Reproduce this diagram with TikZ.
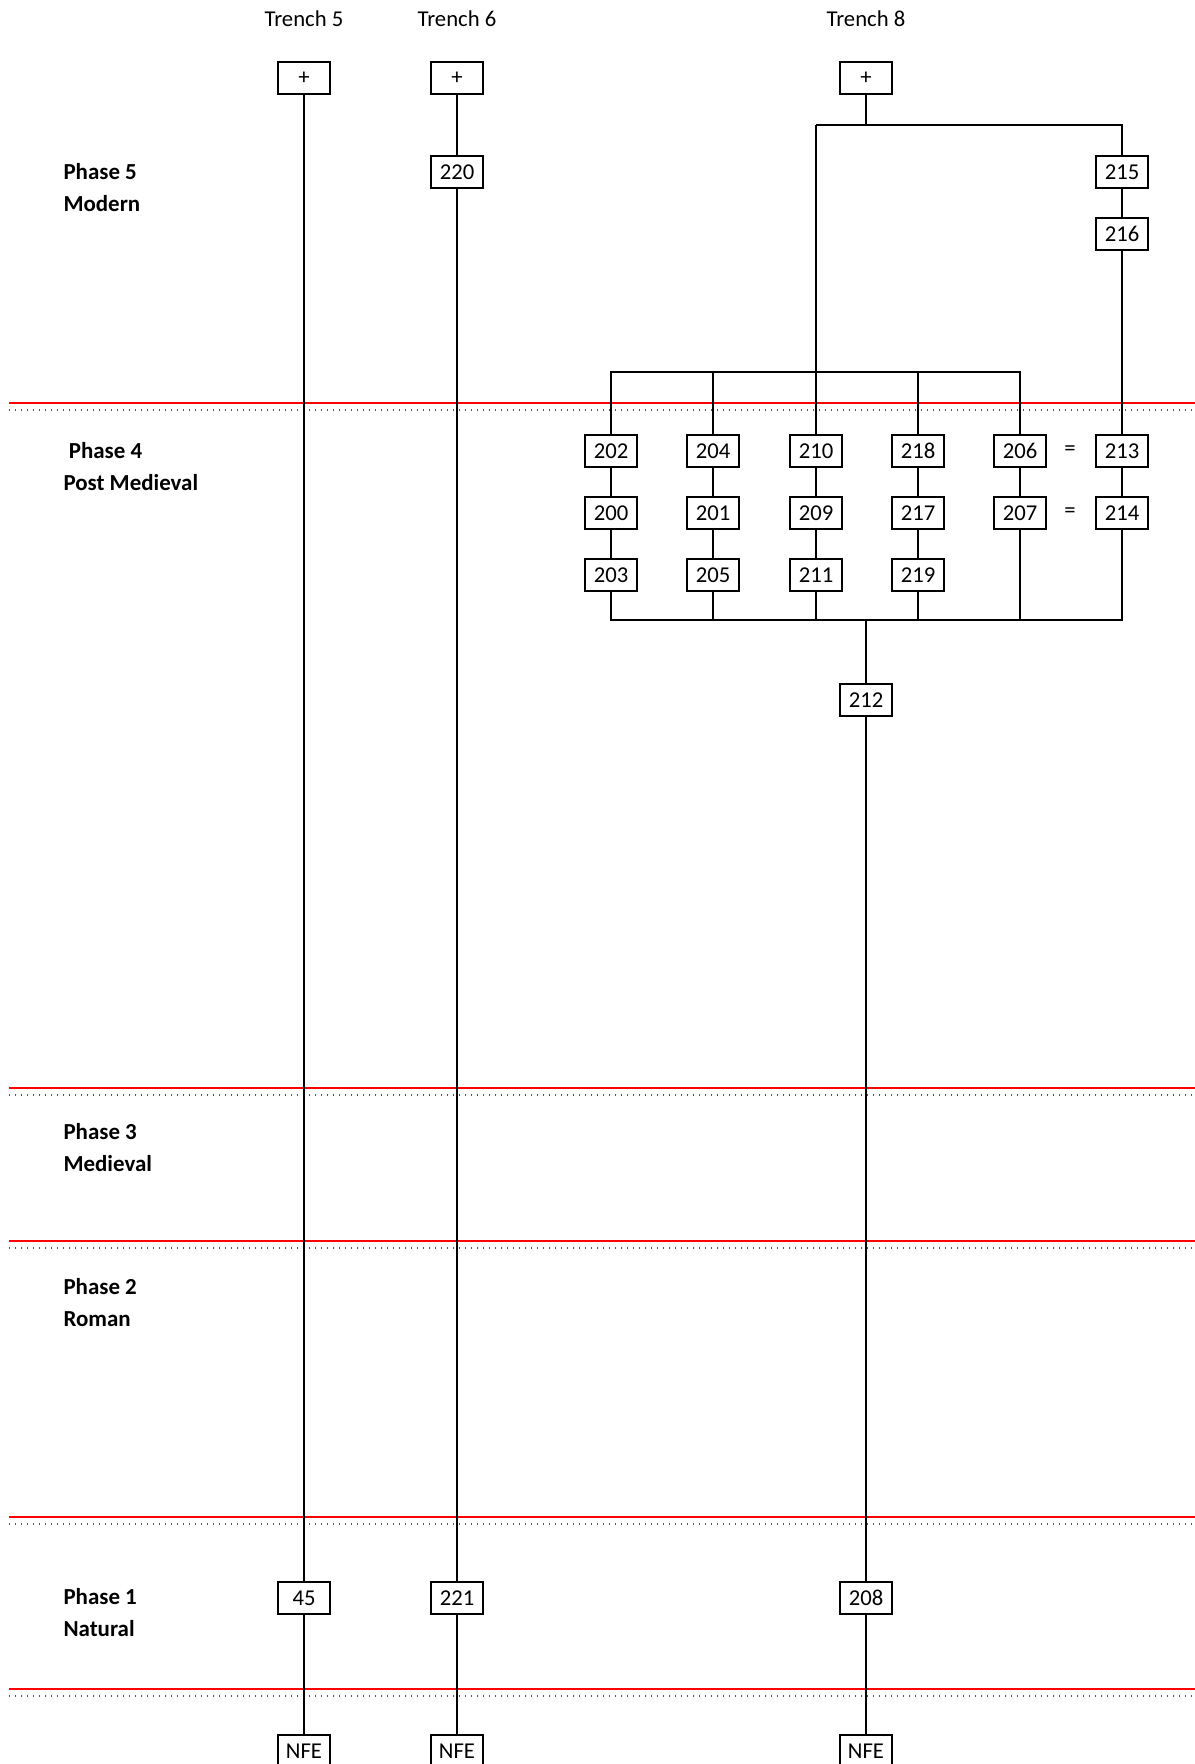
\documentclass[tikz,border=0pt]{standalone}
\usepackage{fontspec}
\setmainfont{Carlito}
\usetikzlibrary{positioning}
\usepackage{xcolor}
\definecolor{phasered}{HTML}{FF0000}
\definecolor{dotgrey}{HTML}{555555}
\tikzset{
  unit/.style={draw,line width=1pt,minimum width=19.5pt,minimum height=12pt,inner sep=0pt,font=\fontsize{8.5}{12}\selectfont},
  link/.style={line width=1pt},
  boundary/.style={draw=phasered,line width=0.8pt},
  dots/.style={draw=dotgrey,line width=0.5pt,dash pattern=on 0.5pt off 1.75pt},
  phase/.style={anchor=west,align=left,inner sep=0pt,font=\fontsize{8.6}{12}\selectfont\bfseries},
  trench/.style={font=\fontsize{8.5}{12}\selectfont}
}

\begin{document}
\begin{tikzpicture}[x=0.375pt,y=-0.375pt,node distance=10.25pt]
  \useasboundingbox (0,0) rectangle (1195,1764);
  % phase boundaries
  \foreach \y in {403,1088,1241,1517,1689}{
    \draw[boundary] (9,\y) -- (1195,\y);
    \draw[dots] (9,\y+7) -- (1195,\y+7);
  }
  \node[phase] (ph5) at (63,188) {Phase 5\\Modern};
  \node[phase] (ph4) at (63,467) {\hspace*{2pt}Phase 4\\Post Medieval};
  \node[phase] (ph3) at (63,1148) {Phase 3\\Medieval};
  \node[phase] (ph2) at (63,1303) {Phase 2\\Roman};
  \node[phase] (ph1) at (63,1613) {Phase 1\\Natural};

  % trench heads
  \node[trench] (tr5) at (304,19) {Trench 5};
  \node[trench] (tr6) at (457,19) {Trench 6};
  \node[trench] (tr8) at (866,19) {Trench 8};
  \node[unit] (top5) at (304,78) {+};
  \node[unit] (top6) at (457,78) {+};
  \node[unit] (top8) at (866,78) {+};

  % trench 6 and 8 upper units
  \node[unit] (u220) at (457,172) {220};
  \node[unit] (u215) at (1122,172) {215};
  \node[unit,below=of u215] (u216) {216};
  \coordinate (split8) at (866,125);
  \coordinate (left8) at (816,125);
  \coordinate (right8) at (1122,125);

  % post medieval group
  \node[unit] (u202) at (611,451) {202};
  \node[unit,below=of u202] (u200) {200};
  \node[unit,below=of u200] (u203) {203};
  \node[unit] (u204) at (713,451) {204};
  \node[unit,below=of u204] (u201) {201};
  \node[unit,below=of u201] (u205) {205};
  \node[unit] (u210) at (816,451) {210};
  \node[unit,below=of u210] (u209) {209};
  \node[unit,below=of u209] (u211) {211};
  \node[unit] (u218) at (918,451) {218};
  \node[unit,below=of u218] (u217) {217};
  \node[unit,below=of u217] (u219) {219};
  \node[unit] (u206) at (1020,451) {206};
  \node[unit,below=of u206] (u207) {207};
  \node[unit] (u213) at (1122,451) {213};
  \node[unit,below=of u213] (u214) {214};
  \node[trench] (eq1) at (1070,451) {=};
  \node[trench] (eq2) at (1070,513) {=};
  \node[unit] (u212) at (866,700) {212};
  \coordinate (topbar) at (0,372);
  \coordinate (lowbar) at (0,620);

  % natural
  \node[unit] (u45) at (304,1598) {45};
  \node[unit] (u221) at (457,1598) {221};
  \node[unit] (u208) at (866,1598) {208};
  \node[unit] (nfe5) at (304,1751) {NFE};
  \node[unit] (nfe6) at (457,1751) {NFE};
  \node[unit] (nfe8) at (866,1751) {NFE};

  % links
  \foreach \a/\b in {top5/u45,u45/nfe5,top6/u220,u220/u221,u221/nfe6,
                     top8/split8,u215/u216,u216/u213,u213/u214,
                     u202/u200,u200/u203,u204/u201,u201/u205,left8/u210,u210/u209,u209/u211,
                     u218/u217,u217/u219,u206/u207,u212/u208,u208/nfe8}
    \draw[link] (\a) -- (\b);
  \draw[link] (left8) -- (right8) -- (u215);
  \draw[link] (u202) -- (u202 |- topbar) -- (u206 |- topbar) -- (u206);
  \draw[link] (u204) -- (u204 |- topbar);
  \draw[link] (u218) -- (u218 |- topbar);
  \draw[link] (u203) -- (u203 |- lowbar) -- (u214 |- lowbar) -- (u214);
  \draw[link] (u205) -- (u205 |- lowbar);
  \draw[link] (u211) -- (u211 |- lowbar);
  \draw[link] (u219) -- (u219 |- lowbar);
  \draw[link] (u207) -- (u207 |- lowbar);
  \draw[link] (u212 |- lowbar) -- (u212);
\end{tikzpicture}
\end{document}
